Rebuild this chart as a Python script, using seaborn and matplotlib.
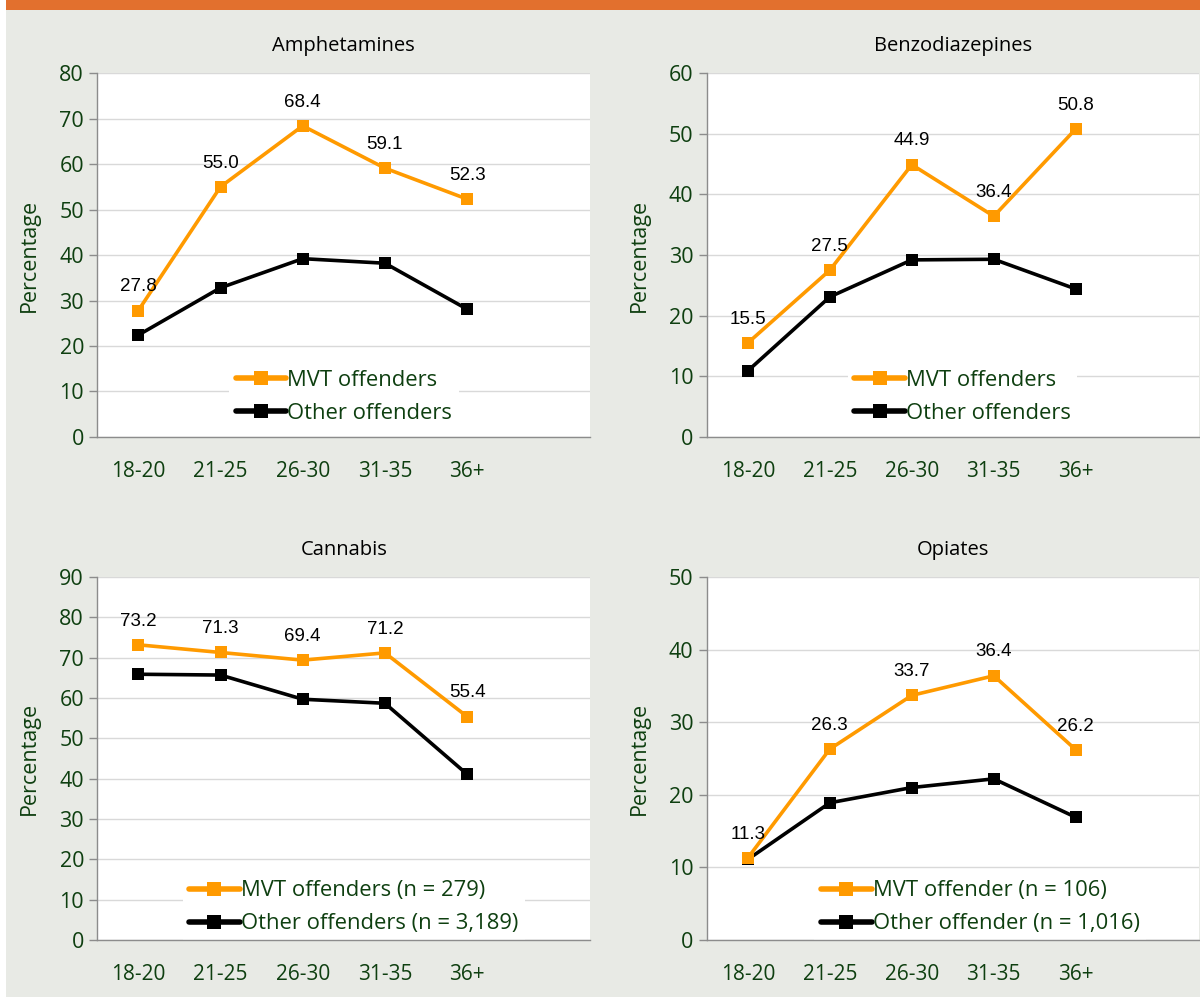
import pandas as pd
import matplotlib
matplotlib.use("Agg")
import matplotlib.pyplot as plt
import seaborn as sns
from matplotlib.lines import Line2D
from matplotlib.patches import Rectangle

ages = ['18-20', '21-25', '26-30', '31-35', '36+']

titles = ['Amphetamines', 'Benzodiazepines', 'Cannabis', 'Opiates']

mvt_amph = [27.8, 55.0, 68.4, 59.1, 52.3]
oth_amph = [22.4, 32.8, 39.2, 38.2, 28.1]

mvt_benzo = [15.5, 27.5, 44.9, 36.4, 50.8]
oth_benzo = [10.9, 23.1, 29.2, 29.3, 24.4]

mvt_cann = [73.2, 71.3, 69.4, 71.2, 55.4]
oth_cann = [65.9, 65.7, 59.7, 58.7, 41.1]

mvt_opi = [11.3, 26.3, 33.7, 36.4, 26.2]
oth_opi = [11.1, 18.9, 21.0, 22.2, 16.9]

legend_labels = [
    ('MVT offenders', 'Other offenders'),
    ('MVT offenders', 'Other offenders'),
    ('MVT offenders (n = 279)', 'Other offenders (n = 3,189)'),
    ('MVT offender (n = 106)', 'Other offender (n = 1,016)'),
]
ymax = [80, 60, 90, 50]

series = [(mvt_amph, oth_amph), (mvt_benzo, oth_benzo),
          (mvt_cann, oth_cann), (mvt_opi, oth_opi)]

ORANGE = '#ff9a00'
GREEN = '#0e3f10'
BG = '#e8eae5'

sns.set_style('white')
plt.rcParams['font.family'] = ['Open Sans', 'DejaVu Sans']

fig = plt.figure(figsize=(12, 9.97), dpi=100)
fig.patch.set_facecolor(BG)
fig.add_artist(Rectangle((0, 0), 0.005, 1, transform=fig.transFigure,
                         facecolor='white', edgecolor='none', zorder=0))
fig.add_artist(Rectangle((0.005, 0.99), 0.995, 0.01, transform=fig.transFigure,
                         facecolor='#e2702e', edgecolor='none', zorder=1))

boxes = [
    [0.081, 0.5617, 0.411, 0.365],
    [0.589, 0.5617, 0.410, 0.365],
    [0.081, 0.0572, 0.411, 0.364],
    [0.589, 0.0572, 0.410, 0.364],
]
legend_pos = [(0.50, 0.11), (0.52, 0.11), (0.52, 0.09), (0.556, 0.09)]

for i in range(4):
    ax = fig.add_axes(boxes[i])
    ax.set_facecolor('white')
    mvt, oth = series[i]
    df = pd.DataFrame({
        'pos': [k + 0.5 for k in range(5)] * 2,
        'value': mvt + oth,
        'group': ['MVT'] * 5 + ['Other'] * 5,
    })
    sns.lineplot(data=df, x='pos', y='value', hue='group',
                 palette={'MVT': ORANGE, 'Other': 'black'},
                 hue_order=['Other', 'MVT'],
                 marker='s', markersize=8, markeredgewidth=0,
                 linewidth=2.6, legend=False, ax=ax, zorder=3)
    for k, v in enumerate(mvt):
        ax.annotate(f'{v:.1f}', (k + 0.5, v), xytext=(0, 11),
                    textcoords='offset points', ha='center', va='bottom',
                    fontsize=13.5, family=['Liberation Sans'], color='black')

    ax.set_xlim(0, 6)
    ax.set_ylim(0, ymax[i])
    ax.set_yticks(range(0, ymax[i] + 1, 10))
    ax.set_xticks(range(7))
    ax.set_xticks([k + 0.5 for k in range(5)], minor=True)
    ax.set_xticklabels([])
    ax.set_xticklabels(ages, minor=True)
    ax.tick_params(axis='x', which='major', length=8, width=1, color='#8c8c8c')
    ax.tick_params(axis='x', which='minor', length=0, pad=17,
                   labelsize=15, labelcolor=GREEN)
    ax.tick_params(axis='y', length=6, width=1, color='#8c8c8c',
                   labelsize=15.5, labelcolor=GREEN, left=True)
    ax.yaxis.grid(True, color='#d9d9d9', linewidth=1)
    ax.set_axisbelow(True)
    for s in ['top', 'right']:
        ax.spines[s].set_visible(False)
    for s in ['left', 'bottom']:
        ax.spines[s].set_color('#8c8c8c')
        ax.spines[s].set_linewidth(1)
    ax.set_xlabel('')
    ax.set_ylabel('Percentage', fontsize=15.5, color=GREEN, labelpad=14)
    ax.set_title(titles[i], fontsize=14.5, color='black', pad=16)

    handles = [
        Line2D([], [], color=ORANGE, lw=4, marker='s', markersize=10,
               markeredgewidth=0),
        Line2D([], [], color='black', lw=4, marker='s', markersize=10,
               markeredgewidth=0),
    ]
    leg = ax.legend(handles, legend_labels[i], loc='center',
                    bbox_to_anchor=legend_pos[i], frameon=True, fancybox=False,
                    edgecolor='none', facecolor='white', framealpha=1,
                    fontsize=15.8, labelcolor=GREEN, handlelength=2.3,
                    handletextpad=0.05, borderpad=0.3, labelspacing=0.55)
    leg.set_zorder(2)

plt.savefig('out.png', dpi=100, facecolor=fig.get_facecolor())
